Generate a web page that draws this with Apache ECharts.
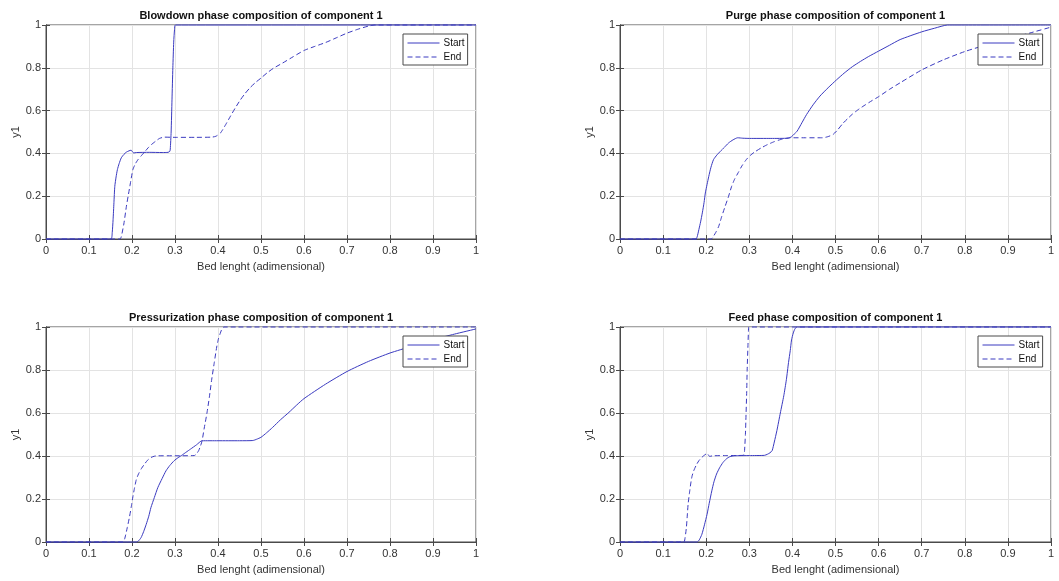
<!DOCTYPE html>
<html><head><meta charset="utf-8">
<script src="https://cdn.jsdelivr.net/npm/echarts@6/dist/echarts.min.js"></script>
<style>html,body{margin:0;padding:0;background:#fff}#c{width:1059px;height:581px}</style>
</head><body><div id="c"></div>
<script>
// ---------- data ----------
const panelTitles = [
  'Blowdown phase composition of component 1',
  'Purge phase composition of component 1',
  'Pressurization phase composition of component 1',
  'Feed phase composition of component 1'
];
const seriesNames = ['Start', 'End'];
const xAxisTitle = 'Bed lenght (adimensional)';
const yAxisTitle = 'y1';
const xTickLabels = ['0','0.1','0.2','0.3','0.4','0.5','0.6','0.7','0.8','0.9','1'];
const yTickLabels = ['0','0.2','0.4','0.6','0.8','1'];

const blowdownStart = [[0,0],[0.151,0],[0.154,0.03],[0.156,0.09],[0.158,0.17],[0.160,0.246],[0.163,0.29],[0.166,0.324],[0.170,0.352],[0.175,0.379],[0.181,0.395],[0.187,0.406],[0.193,0.412],[0.198,0.415],[0.201,0.408],[0.204,0.402],[0.21,0.404],[0.24,0.405],[0.27,0.404],[0.284,0.405],[0.288,0.41],[0.289,0.42],[0.291,0.5],[0.293,0.65],[0.295,0.8],[0.297,0.92],[0.299,0.98],[0.301,1.0],[1,1]];
const blowdownEnd = [[0,0],[0.172,0],[0.175,0.01],[0.181,0.07],[0.187,0.153],[0.191,0.2],[0.195,0.246],[0.202,0.324],[0.208,0.352],[0.214,0.371],[0.222,0.39],[0.229,0.406],[0.237,0.425],[0.245,0.441],[0.255,0.457],[0.264,0.47],[0.275,0.476],[0.3,0.475],[0.35,0.475],[0.385,0.476],[0.395,0.48],[0.406,0.496],[0.418,0.535],[0.429,0.574],[0.44,0.612],[0.452,0.65],[0.463,0.68],[0.475,0.708],[0.487,0.731],[0.5,0.752],[0.514,0.776],[0.529,0.798],[0.55,0.822],[0.575,0.852],[0.6,0.881],[0.625,0.9],[0.65,0.918],[0.675,0.94],[0.7,0.962],[0.725,0.98],[0.75,0.995],[0.765,1.0],[1,1]];

const purgeStart = [[0,0],[0.176,0],[0.179,0.01],[0.183,0.044],[0.187,0.08],[0.191,0.122],[0.195,0.17],[0.198,0.215],[0.202,0.255],[0.206,0.293],[0.211,0.335],[0.217,0.371],[0.225,0.393],[0.233,0.41],[0.242,0.428],[0.252,0.449],[0.262,0.463],[0.273,0.473],[0.285,0.471],[0.3,0.47],[0.35,0.47],[0.39,0.471],[0.398,0.478],[0.404,0.49],[0.411,0.504],[0.422,0.543],[0.433,0.582],[0.448,0.627],[0.464,0.668],[0.483,0.707],[0.502,0.743],[0.52,0.775],[0.539,0.805],[0.558,0.83],[0.577,0.853],[0.6,0.878],[0.625,0.905],[0.65,0.932],[0.7,0.968],[0.73,0.985],[0.76,1.0],[1,1]];
const purgeEnd = [[0,0],[0.212,0],[0.216,0.01],[0.222,0.03],[0.229,0.059],[0.236,0.105],[0.244,0.153],[0.252,0.2],[0.259,0.246],[0.266,0.28],[0.274,0.309],[0.283,0.342],[0.293,0.371],[0.302,0.39],[0.312,0.406],[0.327,0.425],[0.342,0.441],[0.358,0.455],[0.373,0.465],[0.395,0.473],[0.43,0.473],[0.47,0.473],[0.482,0.478],[0.494,0.488],[0.505,0.51],[0.517,0.54],[0.528,0.562],[0.539,0.583],[0.555,0.608],[0.57,0.628],[0.585,0.647],[0.6,0.665],[0.625,0.699],[0.65,0.73],[0.7,0.79],[0.75,0.837],[0.8,0.876],[0.85,0.907],[0.9,0.935],[0.95,0.962],[1,0.99]];

const pressStart = [[0,0],[0.21,0],[0.215,0.005],[0.221,0.02],[0.227,0.048],[0.233,0.082],[0.239,0.12],[0.244,0.16],[0.252,0.207],[0.26,0.253],[0.27,0.295],[0.279,0.331],[0.288,0.356],[0.298,0.378],[0.307,0.392],[0.317,0.405],[0.326,0.418],[0.336,0.432],[0.35,0.452],[0.363,0.471],[0.4,0.471],[0.45,0.471],[0.481,0.472],[0.49,0.478],[0.5,0.487],[0.513,0.508],[0.527,0.533],[0.545,0.568],[0.565,0.603],[0.583,0.637],[0.6,0.667],[0.65,0.734],[0.7,0.793],[0.75,0.84],[0.8,0.879],[0.85,0.91],[0.9,0.941],[0.95,0.967],[1,0.991]];
const pressEnd = [[0,0],[0.179,0],[0.183,0.015],[0.189,0.067],[0.194,0.115],[0.198,0.16],[0.202,0.21],[0.206,0.253],[0.21,0.29],[0.215,0.316],[0.222,0.342],[0.229,0.362],[0.236,0.38],[0.244,0.393],[0.252,0.399],[0.26,0.401],[0.3,0.401],[0.345,0.402],[0.35,0.41],[0.355,0.425],[0.359,0.445],[0.363,0.471],[0.368,0.53],[0.374,0.596],[0.38,0.675],[0.385,0.751],[0.391,0.83],[0.397,0.907],[0.401,0.945],[0.405,0.969],[0.409,0.99],[0.414,1.0],[1,1]];

const feedStart = [[0,0],[0.179,0],[0.184,0.01],[0.19,0.036],[0.196,0.08],[0.202,0.129],[0.207,0.18],[0.213,0.238],[0.218,0.28],[0.224,0.316],[0.231,0.345],[0.239,0.37],[0.247,0.387],[0.255,0.397],[0.266,0.401],[0.3,0.402],[0.335,0.403],[0.342,0.408],[0.348,0.415],[0.353,0.425],[0.358,0.465],[0.364,0.518],[0.372,0.6],[0.38,0.68],[0.386,0.755],[0.391,0.835],[0.395,0.89],[0.398,0.94],[0.402,0.972],[0.406,0.992],[0.411,1.0],[1,1]];
const feedEnd = [[0,0],[0.148,0],[0.151,0.02],[0.154,0.067],[0.156,0.12],[0.158,0.176],[0.161,0.225],[0.164,0.27],[0.167,0.305],[0.171,0.331],[0.177,0.358],[0.183,0.378],[0.189,0.392],[0.194,0.401],[0.2,0.41],[0.202,0.413],[0.205,0.405],[0.208,0.398],[0.215,0.401],[0.25,0.402],[0.285,0.403],[0.288,0.41],[0.289,0.425],[0.291,0.5],[0.292,0.565],[0.294,0.7],[0.295,0.798],[0.297,0.92],[0.298,0.98],[0.299,1.0],[1,1]];

const panelData = [
  [blowdownStart, blowdownEnd],
  [purgeStart, purgeEnd],
  [pressStart, pressEnd],
  [feedStart, feedEnd]
];

// ---------- layout / style ----------
const layouts = [
  {left: 46, top: 25, width: 430, height: 214},
  {left: 620, top: 25, width: 431, height: 214},
  {left: 46, top: 327, width: 430, height: 215},
  {left: 620, top: 327, width: 431, height: 215}
];
const FONT = 'Liberation Sans, Arial, Helvetica, sans-serif';
const LINE = '#3a3ac0';
const AXIS = '#4a4a4a';
const GRIDC = '#e3e3e3';

const option = {
  animation: false,
  backgroundColor: '#fff',
  title: [], grid: [], xAxis: [], yAxis: [], legend: [], series: []
};

layouts.forEach((g, i) => {
  option.grid.push({left: g.left, top: g.top, width: g.width, height: g.height,
    show: true, borderColor: AXIS, borderWidth: 1, backgroundColor: '#fff', containLabel: false});
  option.title.push({text: panelTitles[i], left: g.left + g.width / 2, top: g.top - 15,
    textAlign: 'center', padding: 0,
    textStyle: {fontFamily: FONT, fontSize: 11, fontWeight: 'bold', color: '#111'}});
  const tickCommon = {show: true, inside: true, length: 4, lineStyle: {color: AXIS, width: 1}};
  // bottom x
  option.xAxis.push({type: 'value', gridIndex: i, min: 0, max: 1, interval: 0.1, position: 'bottom',
    name: xAxisTitle, nameLocation: 'middle', nameGap: 22,
    nameTextStyle: {fontFamily: FONT, fontSize: 11, color: '#333'},
    axisLine: {show: true, lineStyle: {color: AXIS, width: 1}},
    axisTick: tickCommon,
    axisLabel: {show: true, margin: 6, fontFamily: FONT, fontSize: 11, color: '#333',
      showMinLabel: true, showMaxLabel: true,
      formatter: v => xTickLabels[Math.round(v * 10)]},
    splitLine: {show: true, lineStyle: {color: GRIDC, width: 1}}});
  // top x (ticks only)
  option.xAxis.push({type: 'value', gridIndex: i, min: 0, max: 1, interval: 0.1, position: 'top',
    axisLine: {show: true, lineStyle: {color: AXIS, width: 1}},
    axisTick: tickCommon, axisLabel: {show: false}, splitLine: {show: false}});
  // left y
  option.yAxis.push({type: 'value', gridIndex: i, min: 0, max: 1, interval: 0.2, position: 'left',
    name: yAxisTitle, nameLocation: 'middle', nameGap: 24, nameRotate: 90,
    nameTextStyle: {fontFamily: FONT, fontSize: 11, color: '#333'},
    axisLine: {show: true, lineStyle: {color: AXIS, width: 1}},
    axisTick: tickCommon,
    axisLabel: {show: true, margin: 5, fontFamily: FONT, fontSize: 11, color: '#333',
      showMinLabel: true, showMaxLabel: true,
      formatter: v => yTickLabels[Math.round(v * 5)]},
    splitLine: {show: true, lineStyle: {color: GRIDC, width: 1}}});
  // right y (ticks only)
  option.yAxis.push({type: 'value', gridIndex: i, min: 0, max: 1, interval: 0.2, position: 'right',
    axisLine: {show: true, lineStyle: {color: AXIS, width: 1}},
    axisTick: tickCommon, axisLabel: {show: false}, splitLine: {show: false}});

  option.legend.push({data: seriesNames, orient: 'vertical', left: g.left + g.width - 73, top: g.top + 9,
    itemWidth: 32, itemHeight: 10, itemGap: 4, padding: [4, 3, 3, 4],
    borderColor: AXIS, borderWidth: 1, backgroundColor: '#fff', borderRadius: 0,
    selectedMode: false,
    itemStyle: {color: 'rgba(0,0,0,0)', borderColor: 'rgba(0,0,0,0)', borderWidth: 0, opacity: 0},
    lineStyle: {width: 1, color: LINE},
    textStyle: {fontFamily: FONT, fontSize: 10, color: '#111', padding: [0, 0, 0, -1]}});

  panelData[i].forEach((d, k) => {
    option.series.push({name: seriesNames[k], type: 'line', xAxisIndex: 2 * i, yAxisIndex: 2 * i,
      data: d, symbol: 'none', showSymbol: false, smooth: 0.2, clip: false,
      lineStyle: {color: LINE, width: 1, type: k === 0 ? 'solid' : [5, 3]},
      itemStyle: {color: LINE}, z: 3});
  });
});

const chart = echarts.init(document.getElementById('c'), null, {renderer: 'canvas'});
chart.setOption(option);
</script></body></html>
